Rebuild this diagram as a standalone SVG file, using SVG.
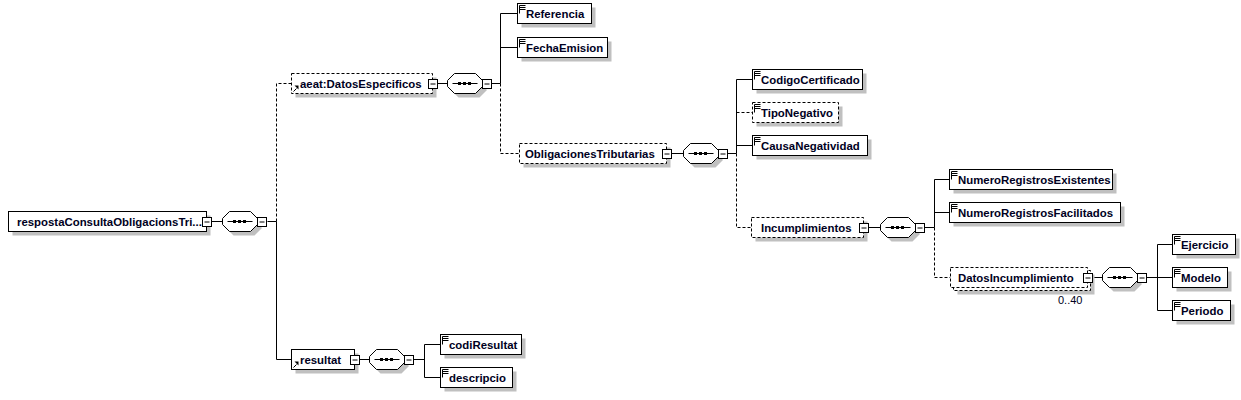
<svg xmlns="http://www.w3.org/2000/svg" xmlns:xlink="http://www.w3.org/1999/xlink" width="1241" height="400" viewBox="0 0 1241 400">
<style>
.box{fill:#fff;stroke:#000;stroke-width:1}
.opt{stroke-dasharray:3 2}
.sh{fill:#c0c0c0;stroke:none}
.ln{stroke:#000;stroke-width:1;fill:none}
.dl{stroke-dasharray:3 2}
text{font-family:"Liberation Sans",Arial,sans-serif;font-weight:bold;font-size:11.4px;fill:#000022}
text.occ{font-weight:normal;font-size:11px}
</style>
<defs>
<g id="minus"><rect x="-4" y="-4" width="9" height="9" fill="#fff" stroke="#000"/><path d="M-2,0.5H3" stroke="#000" stroke-width="1"/></g>
<g id="seq">
<polygon class="sh" points="4,1 11,-6 32,-6 39,1 39,7 32,14 11,14 4,7"/>
<polygon points="0,-3 7,-10 28,-10 35,-3 35,3 28,10 7,10 0,3" fill="#fff" stroke="#000"/>
<path d="M5,0H30" stroke="#000"/>
<rect x="10.5" y="-1.5" width="3" height="3" fill="#000"/>
<rect x="15.5" y="-1.5" width="3" height="3" fill="#000"/>
<rect x="20.5" y="-1.5" width="3" height="3" fill="#000"/>
<use xlink:href="#minus" href="#minus" x="39" y="0"/>
</g>
<path id="ic" d="M2,2V10M2,2H8M2,4H8M2,6H8" stroke="#000" fill="none"/>
<g id="ref"><path d="M2,-2L5,-5" stroke="#000"/><polygon points="7,-8 7,-4 3,-8" fill="#000"/></g>
</defs>

<g id="connectors">
<path class="ln" d="M211.5,221.5H222.5M267.5,221.5H276.5M276.5,221.5V359.5H291.5"/>
<path class="ln dl" d="M276.5,221.5V83.5H291.5"/>
<path class="ln" d="M437.5,83.5H447.5M491.5,83.5H500.5M500.5,83.5V13.5H517.5M500.5,47.5H517.5"/>
<path class="ln dl" d="M500.5,83.5V153.5H519.5"/>
<path class="ln" d="M671.5,153.5H683.5M727.5,153.5H736.5M736.5,153.5V79.5H752.5M736.5,145.5H752.5"/>
<path class="ln dl" d="M736.5,112.5H752.5M736.5,153.5V227.5H751.5"/>
<path class="ln" d="M868.5,227.5H880.5M924.5,227.5H934.5M934.5,227.5V179.5H949.5M934.5,212.5H949.5"/>
<path class="ln dl" d="M934.5,227.5V277.5H950.5"/>
<path class="ln" d="M1092.5,277.5H1102.5M1146.5,277.5H1157.5M1157.5,244.5V310.5M1157.5,244.5H1172.5M1157.5,277.5H1172.5M1157.5,310.5H1172.5"/>
<path class="ln" d="M359.5,359.5H369.5M413.5,359.5H424.5M424.5,344.5V377.5M424.5,344.5H440.5M424.5,377.5H440.5"/>
</g>

<g id="root">
<rect class="sh" x="12.5" y="215.5" width="198" height="20"/>
<rect class="box" x="8.5" y="211.5" width="198" height="20"/>
<text x="17" y="225.5">respostaConsultaObligacionsTri...</text>
<use xlink:href="#minus" href="#minus" x="206.5" y="221.5"/>
</g>
<g id="seq1"><use xlink:href="#seq" href="#seq" x="222.5" y="221.5"/></g>

<g id="DatosEspecificos">
<rect class="sh" x="295.5" y="77.5" width="141" height="20"/>
<rect class="box opt" x="291.5" y="73.5" width="141" height="20"/>
<use xlink:href="#ref" href="#ref" x="291.5" y="93.5"/>
<text x="300" y="87.5">aeat:DatosEspecificos</text>
<use xlink:href="#minus" href="#minus" x="432.5" y="83.5"/>
</g>
<g id="seq2"><use xlink:href="#seq" href="#seq" x="447.5" y="83.5"/></g>

<g id="Referencia">
<rect class="sh" x="521.5" y="7.5" width="74" height="20"/>
<rect class="box" x="517.5" y="3.5" width="74" height="20"/>
<use xlink:href="#ic" href="#ic" x="517.5" y="3.5"/>
<text x="526" y="17.5">Referencia</text>
</g>
<g id="FechaEmision">
<rect class="sh" x="521.5" y="41.5" width="90" height="20"/>
<rect class="box" x="517.5" y="37.5" width="90" height="20"/>
<use xlink:href="#ic" href="#ic" x="517.5" y="37.5"/>
<text x="526" y="51.5">FechaEmision</text>
</g>

<g id="ObligacionesTributarias">
<rect class="sh" x="523.5" y="147.5" width="147" height="20"/>
<rect class="box opt" x="519.5" y="143.5" width="147" height="20"/>
<text x="525" y="157.5">ObligacionesTributarias</text>
<use xlink:href="#minus" href="#minus" x="666.5" y="153.5"/>
</g>
<g id="seq3"><use xlink:href="#seq" href="#seq" x="683.5" y="153.5"/></g>

<g id="CodigoCertificado">
<rect class="sh" x="756.5" y="73.5" width="110" height="20"/>
<rect class="box" x="752.5" y="69.5" width="110" height="20"/>
<use xlink:href="#ic" href="#ic" x="752.5" y="69.5"/>
<text x="761" y="83.5">CodigoCertificado</text>
</g>
<g id="TipoNegativo">
<rect class="sh" x="756.5" y="106.5" width="86" height="20"/>
<rect class="box opt" x="752.5" y="102.5" width="86" height="20"/>
<use xlink:href="#ic" href="#ic" x="752.5" y="102.5"/>
<text x="761" y="116.5">TipoNegativo</text>
</g>
<g id="CausaNegatividad">
<rect class="sh" x="756.5" y="139.5" width="115" height="20"/>
<rect class="box" x="752.5" y="135.5" width="115" height="20"/>
<use xlink:href="#ic" href="#ic" x="752.5" y="135.5"/>
<text x="761" y="149.5">CausaNegatividad</text>
</g>

<g id="Incumplimientos">
<rect class="sh" x="755.5" y="221.5" width="112" height="20"/>
<rect class="box opt" x="751.5" y="217.5" width="112" height="20"/>
<text x="761" y="231.5">Incumplimientos</text>
<use xlink:href="#minus" href="#minus" x="863.5" y="227.5"/>
</g>
<g id="seq4"><use xlink:href="#seq" href="#seq" x="880.5" y="227.5"/></g>

<g id="NumeroRegistrosExistentes">
<rect class="sh" x="953.5" y="173.5" width="163" height="20"/>
<rect class="box" x="949.5" y="169.5" width="163" height="20"/>
<use xlink:href="#ic" href="#ic" x="949.5" y="169.5"/>
<text x="958" y="183.5">NumeroRegistrosExistentes</text>
</g>
<g id="NumeroRegistrosFacilitados">
<rect class="sh" x="953.5" y="206.5" width="171" height="20"/>
<rect class="box" x="949.5" y="202.5" width="171" height="20"/>
<use xlink:href="#ic" href="#ic" x="949.5" y="202.5"/>
<text x="958" y="216.5">NumeroRegistrosFacilitados</text>
</g>

<g id="DatosIncumplimiento">
<rect class="sh" x="957.5" y="274.5" width="137" height="20"/>
<rect class="box opt" x="953.5" y="270.5" width="137" height="20"/>
<rect class="box opt" x="950.5" y="267.5" width="137" height="20"/>
<text x="958" y="281.5">DatosIncumplimiento</text>
<use xlink:href="#minus" href="#minus" x="1087.5" y="277.5"/>
<text class="occ" x="1058" y="304">0..40</text>
</g>
<g id="seq5"><use xlink:href="#seq" href="#seq" x="1102.5" y="277.5"/></g>

<g id="Ejercicio">
<rect class="sh" x="1176.5" y="238.5" width="63" height="20"/>
<rect class="box" x="1172.5" y="234.5" width="63" height="20"/>
<use xlink:href="#ic" href="#ic" x="1172.5" y="234.5"/>
<text x="1181" y="248.5">Ejercicio</text>
</g>
<g id="Modelo">
<rect class="sh" x="1176.5" y="271.5" width="55" height="20"/>
<rect class="box" x="1172.5" y="267.5" width="55" height="20"/>
<use xlink:href="#ic" href="#ic" x="1172.5" y="267.5"/>
<text x="1181" y="281.5">Modelo</text>
</g>
<g id="Periodo">
<rect class="sh" x="1176.5" y="304.5" width="58" height="20"/>
<rect class="box" x="1172.5" y="300.5" width="58" height="20"/>
<use xlink:href="#ic" href="#ic" x="1172.5" y="300.5"/>
<text x="1181" y="314.5">Periodo</text>
</g>

<g id="resultat">
<rect class="sh" x="295.5" y="353.5" width="63" height="20"/>
<rect class="box" x="291.5" y="349.5" width="63" height="20"/>
<use xlink:href="#ref" href="#ref" x="291.5" y="369.5"/>
<text x="300" y="363.5">resultat</text>
<use xlink:href="#minus" href="#minus" x="354.5" y="359.5"/>
</g>
<g id="seq6"><use xlink:href="#seq" href="#seq" x="369.5" y="359.5"/></g>

<g id="codiResultat">
<rect class="sh" x="444.5" y="338.5" width="81" height="20"/>
<rect class="box" x="440.5" y="334.5" width="81" height="20"/>
<use xlink:href="#ic" href="#ic" x="440.5" y="334.5"/>
<text x="449" y="348.5">codiResultat</text>
</g>
<g id="descripcio">
<rect class="sh" x="444.5" y="371.5" width="72" height="20"/>
<rect class="box" x="440.5" y="367.5" width="72" height="20"/>
<use xlink:href="#ic" href="#ic" x="440.5" y="367.5"/>
<text x="449" y="381.5">descripcio</text>
</g>
</svg>
